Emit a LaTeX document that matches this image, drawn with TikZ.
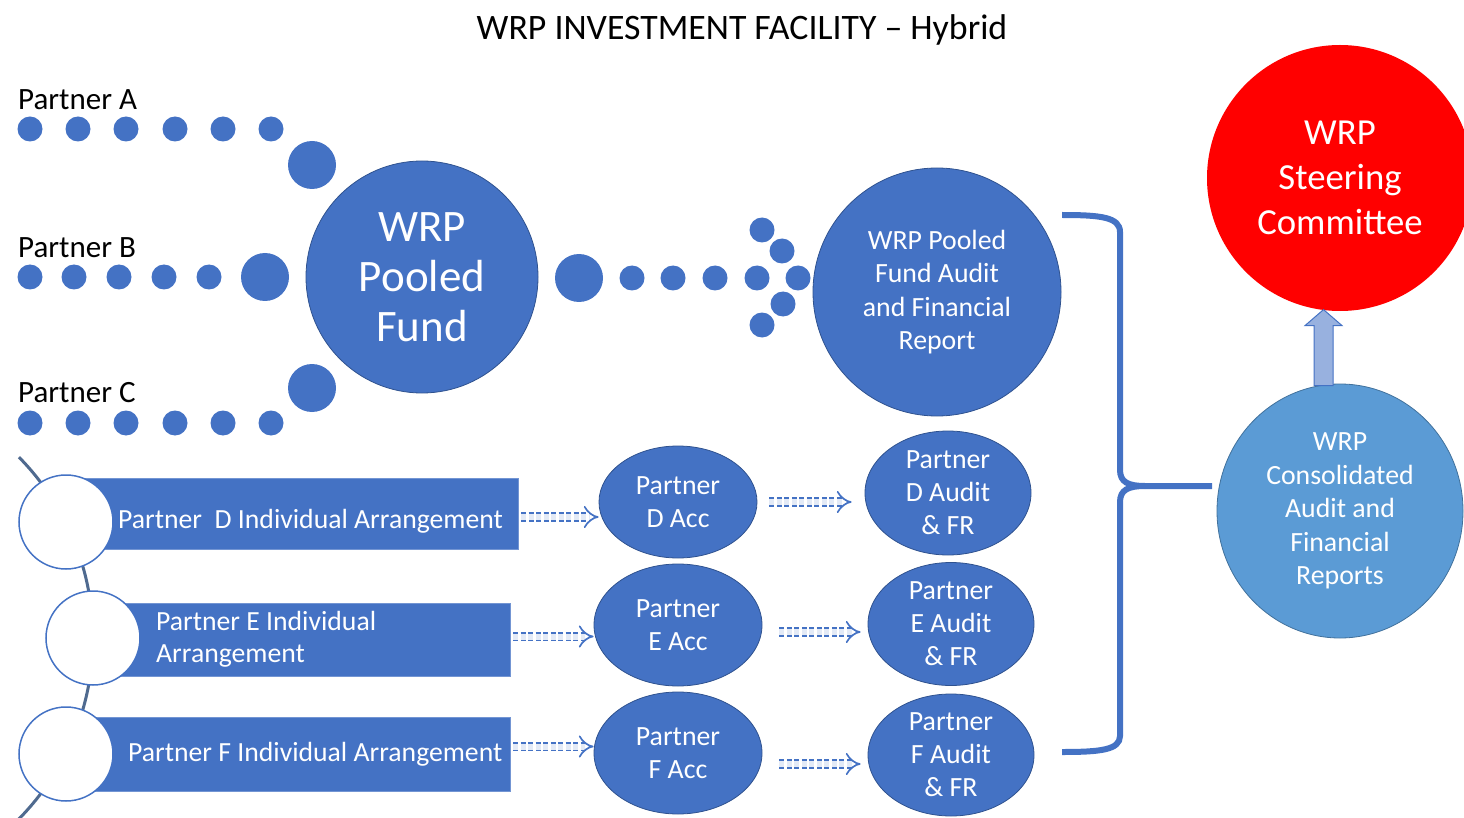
\documentclass[tikz,border=0pt]{standalone}
\usepackage{fontspec}
\setmainfont{Carlito}
\usetikzlibrary{arrows.meta,shapes.geometric}
\definecolor{wblue}{HTML}{4472C4}
\definecolor{wdark}{HTML}{2F528F}
\definecolor{wlight}{HTML}{5B9BD5}
\definecolor{wlightdark}{HTML}{41719C}
\definecolor{wline}{HTML}{4F6A8F}
\definecolor{wred}{HTML}{FF0000}
\begin{document}
\begin{tikzpicture}[x=1pt,y=-1pt,
  dot/.style={circle, fill=wblue, minimum size=25pt, inner sep=0pt},
  bigdot/.style={circle, fill=wblue, minimum size=48pt, inner sep=0pt},
  bignode/.style={circle, fill=wblue, draw=wdark, line width=0.8pt, text=white, align=center, inner sep=0pt},
  ell/.style={ellipse, fill=wblue, draw=wdark, line width=0.8pt, text=white, align=center, inner sep=0pt, font=\fontsize{27.8}{33}\selectfont},
  bar/.style={rectangle, fill=wblue, draw=wblue!75!white, line width=1pt, inner sep=0pt},
  bartext/.style={text=white, inner sep=0pt, font=\fontsize{27.7}{32}\selectfont},
  ring/.style={circle, fill=white, draw=wblue, line width=1.5pt, minimum size=94pt, inner sep=0pt},
  flow/.style={draw=wblue, dash pattern=on 5pt off 2.5pt, line width=1.7pt, double=wblue!15!white, double distance=6pt, -{Implies}},
  plabel/.style={anchor=west, inner sep=0pt, font=\fontsize{31}{36}\selectfont},
  uparrow/.style={fill=wblue!55!white, draw=wblue, line width=1pt},
  brace/.style={draw=wblue, line width=6pt}
]
\useasboundingbox (0,0) rectangle (1464,818);

% title
\node[font=\fontsize{35.8}{40}\selectfont] (title) at (742,30) {WRP INVESTMENT FACILITY – Hybrid};

% partner labels
\node[plabel] (labA) at (18,100) {Partner A};
\node[plabel] (labB) at (18,248) {Partner B};
\node[plabel] (labC) at (18,393) {Partner C};

% dots
\foreach \x [count=\i] in {30,78,126,175,223,271} \node[dot] (a\i) at (\x,129) {};
\node[bigdot] (a7) at (312,165) {};
\foreach \x [count=\i] in {30,74,119,164,209} \node[dot] (b\i) at (\x,277) {};
\node[bigdot] (b6) at (265,277) {};
\foreach \x [count=\i] in {30,78,126,175,223,271} \node[dot] (c\i) at (\x,423) {};
\node[bigdot] (c7) at (312,388) {};

% pooled fund
\node[bignode, minimum size=232pt, font=\fontsize{45}{50}\selectfont] (pool) at (422,277) {WRP\\Pooled\\Fund};

% dots to audit
\node[bigdot] (p1) at (579,278) {};
\foreach \x [count=\i from 2] in {632,673,715} \node[dot] (p\i) at (\x,278) {};
\node[dot] (q1) at (762,230) {};
\node[dot] (q2) at (782,251) {};
\node[dot] (q3) at (757,278) {};
\node[dot] (q4) at (798,278) {};
\node[dot] (q5) at (783,304) {};
\node[dot] (q6) at (762,325) {};

% pooled audit
\node[bignode, minimum size=248pt, font=\fontsize{27.8}{33.5}\selectfont] (paud) at (937,292) {WRP Pooled\\Fund Audit\\and Financial\\Report};

% steering
\node[circle, fill=wred, text=white, align=center, inner sep=0pt, minimum size=266pt, font=\fontsize{36.7}{45}\selectfont] (steer) at (1340,178) {WRP\\Steering\\Committee};

% consolidated
\node[ellipse, fill=wlight, draw=wlightdark, line width=0.8pt, text=white, align=center, inner sep=0pt, minimum width=246pt, minimum height=254pt, font=\fontsize{27.8}{33.5}\selectfont] (cons) at (1340,511) {WRP\\Consolidated\\Audit and\\Financial\\Reports};

% up arrow
\draw[uparrow] ([xshift=-26pt,yshift=-2pt]cons.north) -- ++(0,-60) -- ++(-9,0) -- ++(18.5,-16) -- ++(18.5,16) -- ++(-9,0) -- ++(0,60) -- cycle;

% brace
\coordinate (brtop) at (1062,215);
\coordinate (brbot) at (1062,752);
\coordinate (brtip) at (1212,486);
\draw[brace] (brtop) .. controls (1100,215) and (1120,217) .. (1120,232) -- (1120,470)
  .. controls (1120,482) and (1128,486) .. (1145,486) -- (brtip);
\draw[brace] (1145,486) .. controls (1128,486) and (1120,490) .. (1120,502) -- (1120,736)
  .. controls (1120,750) and (1100,752) .. (brbot);

% left arc line
\draw[wline, line width=3pt] (19,457.2) arc[start angle=-44.5, end angle=48, radius=258];

% partner D/E/F arrangements
\node[bar, anchor=north west, minimum width=452pt, minimum height=71pt] (rectD) at (66,478) {};
\node[ring] (ringD) at (66,522) {};
\node[bartext, anchor=west] (tD) at (118,521) {Partner\ \ D Individual Arrangement};

\node[bar, anchor=north west, minimum width=415pt, minimum height=73pt] (rectE) at (95,603) {};
\node[ring] (ringE) at (93,638) {};
\node[bartext, anchor=west, align=left] (tE) at (156,639) {Partner E Individual\\Arrangement};

\node[bar, anchor=north west, minimum width=444pt, minimum height=74pt] (rectF) at (66,717) {};
\node[ring] (ringF) at (66,754) {};
\node[bartext, anchor=west] (tF) at (128,754) {Partner F Individual Arrangement};

% acc ellipses
\node[ell, minimum width=158pt, minimum height=112pt] (accD) at (678,502) {Partner\\D Acc};
\node[ell, minimum width=168pt, minimum height=122pt] (accE) at (678,625) {Partner\\E Acc};
\node[ell, minimum width=168pt, minimum height=122pt] (accF) at (678,753) {Partner\\F Acc};

% audit ellipses
\node[ell, minimum width=166pt, minimum height=124pt] (audD) at (948,493) {Partner\\D Audit\\\& FR};
\node[ell, minimum width=166pt, minimum height=123pt] (audE) at (951,624) {Partner\\E Audit\\\& FR};
\node[ell, minimum width=166pt, minimum height=122pt] (audF) at (951,755) {Partner\\F Audit\\\& FR};

% flow arrows
\draw[flow, shorten <=2pt] ([yshift=-3pt]rectD.east) -- ([yshift=-3pt]rectD.east -| accD.west);
\draw[flow, shorten <=12pt, shorten >=13pt] (accD.east) -- (accD.east -| audD.west);
\draw[flow, shorten <=2pt] ([yshift=3.5pt]rectE.east) -- ([yshift=3.5pt]rectE.east -| accE.west);
\draw[flow, shorten <=17pt, shorten >=7pt] ([yshift=-7pt]accE.east) -- ([yshift=-7pt]accE.east -| audE.west);
\draw[flow, shorten <=2pt] ([yshift=8pt]rectF.east) -- ([yshift=8pt]rectF.east -| accF.west);
\draw[flow, shorten <=17pt, shorten >=7pt] ([yshift=-11pt]accF.east) -- ([yshift=-11pt]accF.east -| audF.west);
\end{tikzpicture}
\end{document}
